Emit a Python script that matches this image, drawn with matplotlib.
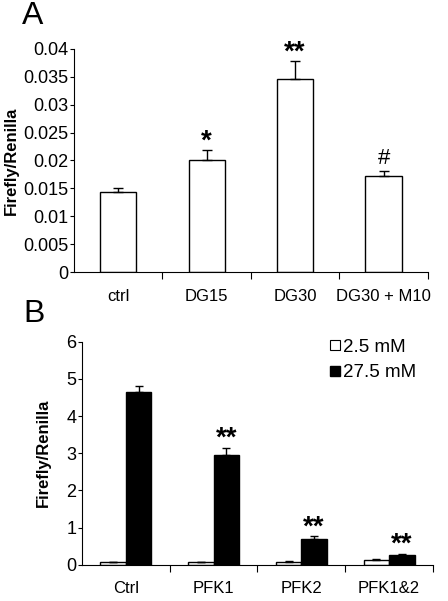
import numpy as np
import matplotlib.pyplot as plt
from matplotlib.lines import Line2D

plt.rcParams['font.family'] = ['Liberation Sans', 'DejaVu Sans']

# panel A
a_labels = ['ctrl', 'DG15', 'DG30', 'DG30 + M10']
a_vals = [0.0143, 0.0200, 0.0347, 0.0172]
a_err = [0.0007, 0.0018, 0.0032, 0.0009]
a_marks = ['', '*', '**', '#']

# panel B
b_labels = ['Ctrl', 'PFK1', 'PFK2', 'PFK1&2']
b_low = [0.06, 0.06, 0.07, 0.13]
b_low_err = [0.01, 0.01, 0.04, 0.03]
b_high = [4.65, 2.94, 0.70, 0.27]
b_high_err = [0.15, 0.19, 0.06, 0.03]
b_marks = ['', '**', '**', '**']
b_legend = ['2.5 mM', '27.5 mM']

fig = plt.figure(figsize=(4.48, 6.01), dpi=100)

def style(ax, n, lpad):
    for s in ['top', 'right']:
        ax.spines[s].set_visible(False)
    ax.spines['left'].set_linewidth(0.8)
    ax.spines['bottom'].set_linewidth(0.8)
    ax.set_xlim(0, n)
    ax.set_xticks(np.arange(1, n + 1))
    ax.set_xticklabels([])
    ax.set_xticks(np.arange(n) + 0.5, minor=True)
    ax.tick_params(axis='x', which='major', length=5, direction='out', width=0.8)
    ax.tick_params(axis='x', which='minor', length=0, pad=12, labelsize=12)
    ax.tick_params(axis='y', length=3, direction='out', width=0.8, labelsize=13, pad=1)
    ax.set_ylabel('Firefly/Renilla', fontsize=12, fontweight='bold', labelpad=lpad)

# ---- A ----
axA = fig.add_axes([0.165, 0.5474, 0.79, 0.3711])
x = np.arange(len(a_labels)) + 0.5
axA.bar(x, a_vals, width=0.41, color='white', edgecolor='black', linewidth=1,
        yerr=[np.zeros(len(a_err)), a_err], capsize=3.5,
        error_kw={'elinewidth': 1, 'capthick': 1, 'ecolor': 'black'}, zorder=2)
style(axA, len(a_labels), 3)
axA.set_xticklabels(a_labels, minor=True)
axA.set_ylim(0, 0.04)
axA.set_yticks(np.arange(0, 0.0401, 0.005))
axA.set_yticklabels(['0', '0.005', '0.01', '0.015', '0.02', '0.025', '0.03', '0.035', '0.04'])
for i in range(len(a_labels)):
    if a_marks[i] == '#':
        axA.text(x[i], a_vals[i] + a_err[i] + 0.0004, a_marks[i], ha='center', va='bottom', fontsize=16)
    elif a_marks[i]:
        axA.text(x[i], a_vals[i] + a_err[i] - 0.0008, a_marks[i], ha='center', va='bottom',
                 fontsize=20, fontweight='bold')
fig.text(0.048, 0.974, 'A', fontsize=23, va='center')

# ---- B ----
axB = fig.add_axes([0.183, 0.0604, 0.7835, 0.371])
x = np.arange(len(b_labels)) + 0.5
w = 0.29
axB.bar(x - w / 2, b_low, width=w, color='white', edgecolor='black', linewidth=1,
        yerr=[np.zeros(len(b_low)), b_low_err], capsize=3,
        error_kw={'elinewidth': 1, 'capthick': 1, 'ecolor': 'black'}, zorder=2)
axB.bar(x + w / 2, b_high, width=w, color='black', edgecolor='black', linewidth=1,
        yerr=[np.zeros(len(b_high)), b_high_err], capsize=3,
        error_kw={'elinewidth': 1, 'capthick': 1, 'ecolor': 'black'}, zorder=2)
style(axB, len(b_labels), 11)
axB.set_xticklabels(b_labels, minor=True)
axB.set_ylim(0, 6)
axB.set_yticks(np.arange(0, 7, 1))
for i in range(len(b_labels)):
    if b_marks[i]:
        axB.text(x[i] + w / 2, b_high[i] + b_high_err[i] - 0.1, b_marks[i], ha='center',
                 va='bottom', fontsize=20, fontweight='bold')
handles = [Line2D([], [], marker='s', ls='', markersize=6.5, markerfacecolor='white',
                  markeredgecolor='black', markeredgewidth=0.8),
           Line2D([], [], marker='s', ls='', markersize=6.5, markerfacecolor='black',
                  markeredgecolor='black')]
axB.legend(handles, b_legend, loc='upper right', bbox_to_anchor=(1.0, 1.09), frameon=False,
           fontsize=13.5, handlelength=0.5, handletextpad=0.15, labelspacing=0.45)
fig.text(0.052, 0.478, 'B', fontsize=23, va='center')

fig.savefig('out.png', dpi=100)
